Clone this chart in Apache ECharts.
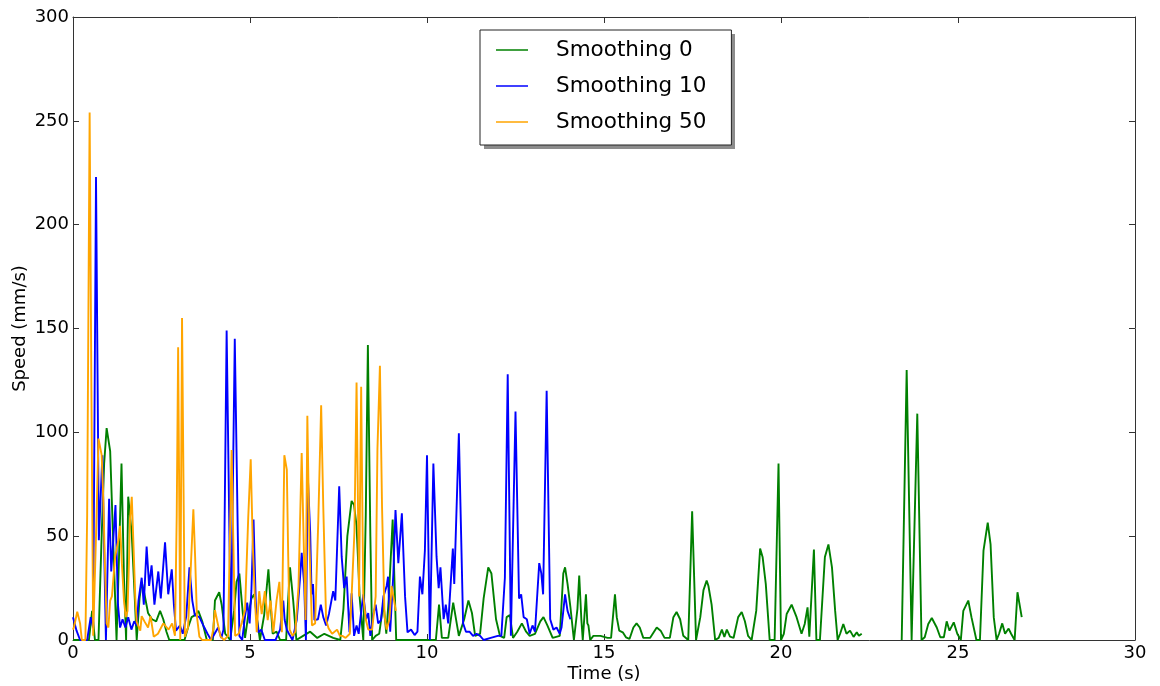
<!DOCTYPE html>
<html>
<head>
<meta charset="utf-8">
<title>Speed vs time</title>
<script src="https://cdn.jsdelivr.net/npm/echarts@6/dist/echarts.min.js"></script>
<style>
  html, body { margin: 0; padding: 0; background: #fff; }
  #chart { width: 1160px; height: 686px; }
</style>
</head>
<body>
<div id="chart"></div>
<script>
// Speed traces (time in s, speed in mm/s) for three smoothing windows.
// A null speed marks a break in the recording.
const seriesNames = ['Smoothing 0', 'Smoothing 10', 'Smoothing 50'];
const seriesColors = ['#008000', '#0000ff', '#ffa500'];

const xTicks = [0, 5, 10, 15, 20, 25, 30];
const yTicks = [0, 50, 100, 150, 200, 250, 300];

const time0 = [0,0.45,0.54,0.62,0.72,0.8,0.88,0.95,1.05,1.15,1.23,1.3,1.37,1.44,1.5,1.56,1.66,1.8,1.88,1.94,2.02,2.12,2.23,2.35,2.46,2.55,2.64,2.72,3.15,3.25,3.35,3.45,3.54,3.65,3.78,3.95,4.01,4.13,4.2,4.3,4.44,4.55,4.62,4.7,4.77,4.86,4.95,5.04,5.12,5.2,5.28,5.4,5.52,5.58,5.64,5.75,5.85,6.02,6.08,6.13,6.22,6.31,6.5,6.7,6.9,7.1,7.35,7.55,7.64,7.75,7.87,7.94,8.01,8.1,8.2,8.27,8.33,8.4,8.45,8.55,8.65,8.77,8.85,8.92,9.03,9.13,9.6,10.25,10.34,10.42,10.6,10.74,10.9,11.05,11.17,11.27,11.36,11.5,11.6,11.73,11.82,11.95,12.06,12.18,12.25,12.34,12.43,12.55,12.68,12.8,12.9,13.05,13.2,13.29,13.4,13.55,13.75,13.85,13.9,13.97,14.05,14.15,14.25,14.3,14.36,14.4,14.49,14.53,14.56,14.61,14.7,14.9,15.1,15.2,15.31,15.36,15.43,15.53,15.62,15.72,15.83,15.92,16.01,16.11,16.3,16.49,16.6,16.71,16.86,16.96,17.05,17.15,17.24,17.38,17.49,17.6,17.72,17.81,17.9,17.95,18.04,18.14,18.24,18.33,18.4,18.47,18.56,18.66,18.79,18.89,18.98,19.07,19.17,19.3,19.41,19.48,19.57,19.68,19.82,19.93,20.0,20.08,20.16,20.3,20.44,20.58,20.67,20.75,20.8,20.93,21.0,21.1,21.24,21.34,21.44,21.53,21.6,21.67,21.76,21.85,21.95,22.05,22.14,22.2,22.28,22.9,23.41,23.55,23.69,23.85,23.97,24.06,24.16,24.26,24.4,24.5,24.6,24.68,24.76,24.88,24.98,25.08,25.15,25.29,25.38,25.52,25.62,25.72,25.84,25.92,26.01,26.09,26.16,26.25,26.33,26.43,26.5,26.6,26.68,26.74,26.8];
const speed0 = [0,0,14,0,0,45,85,102,91,40,0,40,85,30,0,69,51,0,20,28,22,13,10,9,14,10,4,0,0,6,11,12,14,9,0,0,19,23,17,3,0,14,28,32,18,1,12,20,22,10,0,12,34,18,3,4,0,0,20,35,19,0,2,4,1,3,1,0,15,50,67,65,55,20,0,60,142,50,0,2,3,18,3,20,58,0,0,0,17,1,1,18,2,10,19,13,2,3,20,35,32,10,2,1,11,12,1,4,8,4,2,3,9,11,7,1,2,32,35,27,16,0,15,31,10,0,22,8,7,0,2,2,1,1,22,11,4.5,3.7,1.3,0.5,6,8,6,1,1,6,4.5,1,1,11,13.5,10,2,0,62,0,11,24,28.6,26,17,0,1,5,1.5,5,1.6,1,11,13.5,9,2,0,14,44,40,27,0,0,85,0,3,12.5,17,11,3,7.7,15.7,1.6,43.6,0,0,40,46,35,14,0,3,7.7,3,4.5,1.5,3.7,2,3,null,0,130,0,109,0,1.3,7.7,10.6,6,1.3,1.3,9,4.5,8.5,3,0,14,19,11,0,0,43,56.5,46,11,0,3,8,3,5.5,3,0,23,17,11];

const time10 = [0,0.1,0.2,0.4,0.5,0.57,0.65,0.73,0.83,0.93,1.02,1.08,1.2,1.27,1.33,1.4,1.48,1.56,1.65,1.73,1.8,1.85,1.94,2.0,2.08,2.15,2.22,2.3,2.41,2.48,2.6,2.69,2.79,2.85,2.91,3.02,3.1,3.2,3.29,3.37,3.44,3.57,3.71,3.8,3.9,4.0,4.1,4.19,4.25,4.34,4.46,4.57,4.7,4.78,4.86,4.92,4.99,5.04,5.1,5.17,5.24,5.32,5.42,5.72,5.85,5.94,5.98,6.04,6.1,6.2,6.32,6.41,6.46,6.53,6.58,6.63,6.7,6.74,6.78,6.82,6.92,7.0,7.07,7.15,7.23,7.35,7.41,7.52,7.59,7.66,7.73,7.81,7.87,7.94,8.01,8.07,8.13,8.2,8.28,8.34,8.4,8.48,8.55,8.62,8.7,8.77,8.86,8.9,8.96,9.05,9.11,9.19,9.23,9.29,9.38,9.45,9.55,9.65,9.73,9.8,9.87,9.94,10.0,10.08,10.18,10.27,10.33,10.38,10.47,10.53,10.6,10.73,10.77,10.9,11.02,11.1,11.2,11.3,11.4,11.5,11.6,11.8,12.0,12.1,12.2,12.28,12.37,12.5,12.6,12.66,12.73,12.82,12.9,12.98,13.05,13.17,13.23,13.28,13.38,13.48,13.57,13.66,13.75,13.8,13.9,13.97,14.05];
const speed10 = [11,4.5,0,0,11,6,223,48,89,0,68,33,65,17,6,10,6,11,5,9,7,19,30,17,45,26,36,17,33,20,47,22,34,17,4.5,7,3,11.5,35,19,12,11,6,3,0,3,6,1,5,149,0,145,2,0,11.5,18,8,24,58,14,3.7,5,0,0,5,19,9.6,5,3,0,9.6,29,42,27,0,80,52,22,27,9.6,10,17,11,7,12.5,23.5,19,74,40,25,30.5,3.7,22.5,2,7,3,12,22,10,13,2,12,17,8,9.6,21,26,30.5,4,32,62.6,37,37,61,21,3.7,5,2.4,4,30.5,22,43,89,0,85,40,25,35,10,17,8,44,27,99.5,8,4,4,2,3,2,0,1,2,2,30,128,2,110,20,22,11,10,3,7,4,37,32,22,120,10,5,6,3,6,22,14,10];

const time50 = [0,0.03,0.12,0.2,0.25,0.35,0.4,0.47,0.52,0.57,0.65,0.72,0.81,0.86,0.9,0.95,1.0,1.05,1.1,1.19,1.28,1.33,1.38,1.44,1.49,1.54,1.58,1.61,1.66,1.71,1.76,1.8,1.9,1.94,2.03,2.12,2.19,2.28,2.4,2.55,2.7,2.8,2.88,2.93,2.97,3.03,3.08,3.16,3.25,3.32,3.4,3.45,3.5,3.57,3.65,3.9,3.96,4.01,4.08,4.17,4.27,4.38,4.48,4.58,4.68,4.77,4.86,4.95,5.02,5.08,5.14,5.19,5.26,5.33,5.42,5.5,5.58,5.66,5.75,5.83,5.9,5.97,6.04,6.08,6.12,6.2,6.28,6.37,6.46,6.52,6.57,6.62,6.68,6.75,6.84,6.93,7.01,7.07,7.15,7.22,7.32,7.46,7.54,7.61,7.7,7.82,7.87,7.95,8.01,8.08,8.14,8.2,8.27,8.34,8.45,8.55,8.6,8.67,8.73,8.8,8.86,8.94,9.0,9.05,9.12];
const speed50 = [5,6.4,13.6,8,0,0,60,254,120,2,50,97,89,66,37,8,6,19,21,40,48,55,37,19,11,14,37,58,69,45,20,8.6,4.5,11.5,8.6,6,11.5,1.6,3,8,5,8,2,60,141,0,155,1.6,6,32,63,40,11.5,1.6,0,0,5,14.4,8.6,1.6,0,2,91.5,2,3,8.6,14.4,59,87,45,19,3.7,23.5,12.5,23.5,9.6,19,3.7,19,28,3.7,89,82,40,5,2,4,25.7,90,45,9.6,108,45,7,8,58,113,64,9.6,5.6,3,5,2,2,1,3,21,52,124,21,122,21,10,5,5,21,92,132,64,11.5,5,10,26,21,14];

// Pair times with speeds; a missing speed becomes a gap in the line.
function pairs(times, speeds) {
  return times.map((t, i) => [t, speeds[i] === null ? '-' : speeds[i]]);
}
const seriesData = [pairs(time0, speed0), pairs(time10, speed10), pairs(time50, speed50)];

const FONT = 'DejaVu Sans';
const spine = '#333';

// Legend box geometry (shared by the legend and its drop shadow)
const legendBox = { left: 480, top: 30, width: 251, height: 115 };

const chart = echarts.init(document.getElementById('chart'), null, { renderer: 'canvas' });

function axisBase(min, max, interval) {
  return {
    type: 'value', min, max, interval,
    splitLine: { show: false },
    axisLine: { show: true, onZero: false, lineStyle: { color: spine, width: 1 } },
    axisTick: { show: true, inside: true, length: 6, lineStyle: { color: spine, width: 1 } }
  };
}

chart.setOption({
  animation: false,
  backgroundColor: '#ffffff',
  textStyle: { fontFamily: FONT },
  grid: { left: 73, right: 25, top: 17, bottom: 46, containLabel: false, outerBoundsMode: 'none' },
  graphic: [{
    type: 'rect',
    z: 90,
    silent: true,
    shape: { x: legendBox.left + 4, y: legendBox.top + 4, width: legendBox.width, height: legendBox.height },
    style: { fill: '#8c8c8c' }
  }],
  legend: {
    data: seriesNames,
    orient: 'vertical',
    left: legendBox.left,
    top: legendBox.top,
    z: 100,
    icon: 'rect',
    itemWidth: 32,
    itemHeight: 1.5,
    itemGap: 12,
    padding: [8, 25, 11, 16],
    backgroundColor: '#ffffff',
    borderColor: '#222',
    borderWidth: 1,
    borderRadius: 0,
    selectedMode: false,
    textStyle: {
      fontFamily: FONT, fontSize: 21.5, color: '#000', lineHeight: 24,
      padding: [0, 0, 0, 23]
    }
  },
  xAxis: [
    Object.assign(axisBase(xTicks[0], xTicks[xTicks.length - 1], xTicks[1] - xTicks[0]), {
      position: 'bottom',
      name: 'Time (s)',
      nameLocation: 'middle',
      nameGap: 25,
      nameMoveOverlap: false,
      nameTextStyle: { fontFamily: FONT, fontSize: 18, color: '#000' },
      axisLabel: { show: true, margin: 4, fontFamily: FONT, fontSize: 18, color: '#000' }
    }),
    Object.assign(axisBase(xTicks[0], xTicks[xTicks.length - 1], xTicks[1] - xTicks[0]), {
      position: 'top',
      axisLabel: { show: false }
    })
  ],
  yAxis: [
    Object.assign(axisBase(yTicks[0], yTicks[yTicks.length - 1], yTicks[1] - yTicks[0]), {
      position: 'left',
      name: 'Speed (mm/s)',
      nameLocation: 'middle',
      nameRotate: 90,
      nameGap: 44,
      nameMoveOverlap: false,
      nameTextStyle: { fontFamily: FONT, fontSize: 18, color: '#000' },
      axisLabel: { show: true, margin: 4, fontFamily: FONT, fontSize: 18, color: '#000' }
    }),
    Object.assign(axisBase(yTicks[0], yTicks[yTicks.length - 1], yTicks[1] - yTicks[0]), {
      position: 'right',
      axisLabel: { show: false }
    })
  ],
  series: seriesNames.map((name, i) => ({
    name,
    type: 'line',
    xAxisIndex: 0,
    yAxisIndex: 0,
    data: seriesData[i],
    showSymbol: false,
    symbol: 'none',
    connectNulls: false,
    clip: true,
    color: seriesColors[i],
    lineStyle: { color: seriesColors[i], width: 1.9 },
    z: 2 + i
  }))
});
</script>
</body>
</html>
